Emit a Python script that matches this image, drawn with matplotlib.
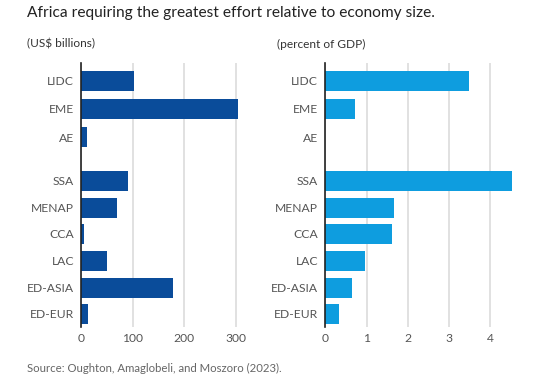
import matplotlib
matplotlib.use('Agg')
import matplotlib.pyplot as plt

# data
regions = ['LIDC', 'EME', 'AE', 'SSA', 'MENAP', 'CCA', 'LAC', 'ED-ASIA', 'ED-EUR']
usd_billions = [103, 304, 11, 91, 69, 5, 50, 178, 13]
pct_gdp = [3.49, 0.73, 0.0, 4.52, 1.66, 1.61, 0.97, 0.64, 0.34]

# row positions (gap between the income groups and the regions)
ypos = [0, 1.06, 2.12, 3.77, 4.77, 5.76, 6.77, 7.78, 8.77]

fig = plt.figure(figsize=(5.39, 3.75), dpi=100)
plt.rcParams['font.family'] = ['Lato', 'DejaVu Sans']

ax1 = fig.add_axes([0.1503, 0.128, 0.2963, 0.704])
ax2 = fig.add_axes([0.6035, 0.128, 0.3486, 0.704])

def style(ax, vals, color, xmax, ticks):
    ax.set_axisbelow(True)
    ax.barh(ypos, vals, height=0.75, color=color)
    ax.set_ylim(9.26, -0.665)
    ax.set_xlim(0, xmax)
    ax.set_xticks(ticks)
    ax.set_yticks(ypos)
    ax.set_yticklabels(regions)
    ax.grid(axis='x', color='#dcdcdc', linewidth=1.2)
    for s in ['top', 'right', 'bottom']:
        ax.spines[s].set_visible(False)
    ax.spines['left'].set_color('#222222')
    ax.spines['left'].set_linewidth(1.2)
    ax.tick_params(length=0, labelsize=8.7, colors='#555555')
    ax.tick_params(axis='y', pad=5)
    ax.tick_params(axis='x', pad=4)

style(ax1, usd_billions, '#0a4c9a', 310, [0, 100, 200, 300])
style(ax2, pct_gdp, '#0e9ddf', 4.55, [0, 1, 2, 3, 4])

fig.text(27/539, 1 - 13/375, 'Africa requiring the greatest effort relative to economy size.',
         fontsize=11.2, color='#222222', va='center', ha='left')
fig.text(27/539, 1 - 44/375, '(US$ billions)', fontsize=8.6, color='#333333', va='center')
fig.text(277/539, 1 - 44/375, '(percent of GDP)', fontsize=8.6, color='#333333', va='center')
fig.text(27/539, 1 - 368/375, 'Source: Oughton, Amaglobeli, and Moszoro (2023).',
         fontsize=8.2, color='#666666', va='center')

fig.savefig('out.png', dpi=100)
